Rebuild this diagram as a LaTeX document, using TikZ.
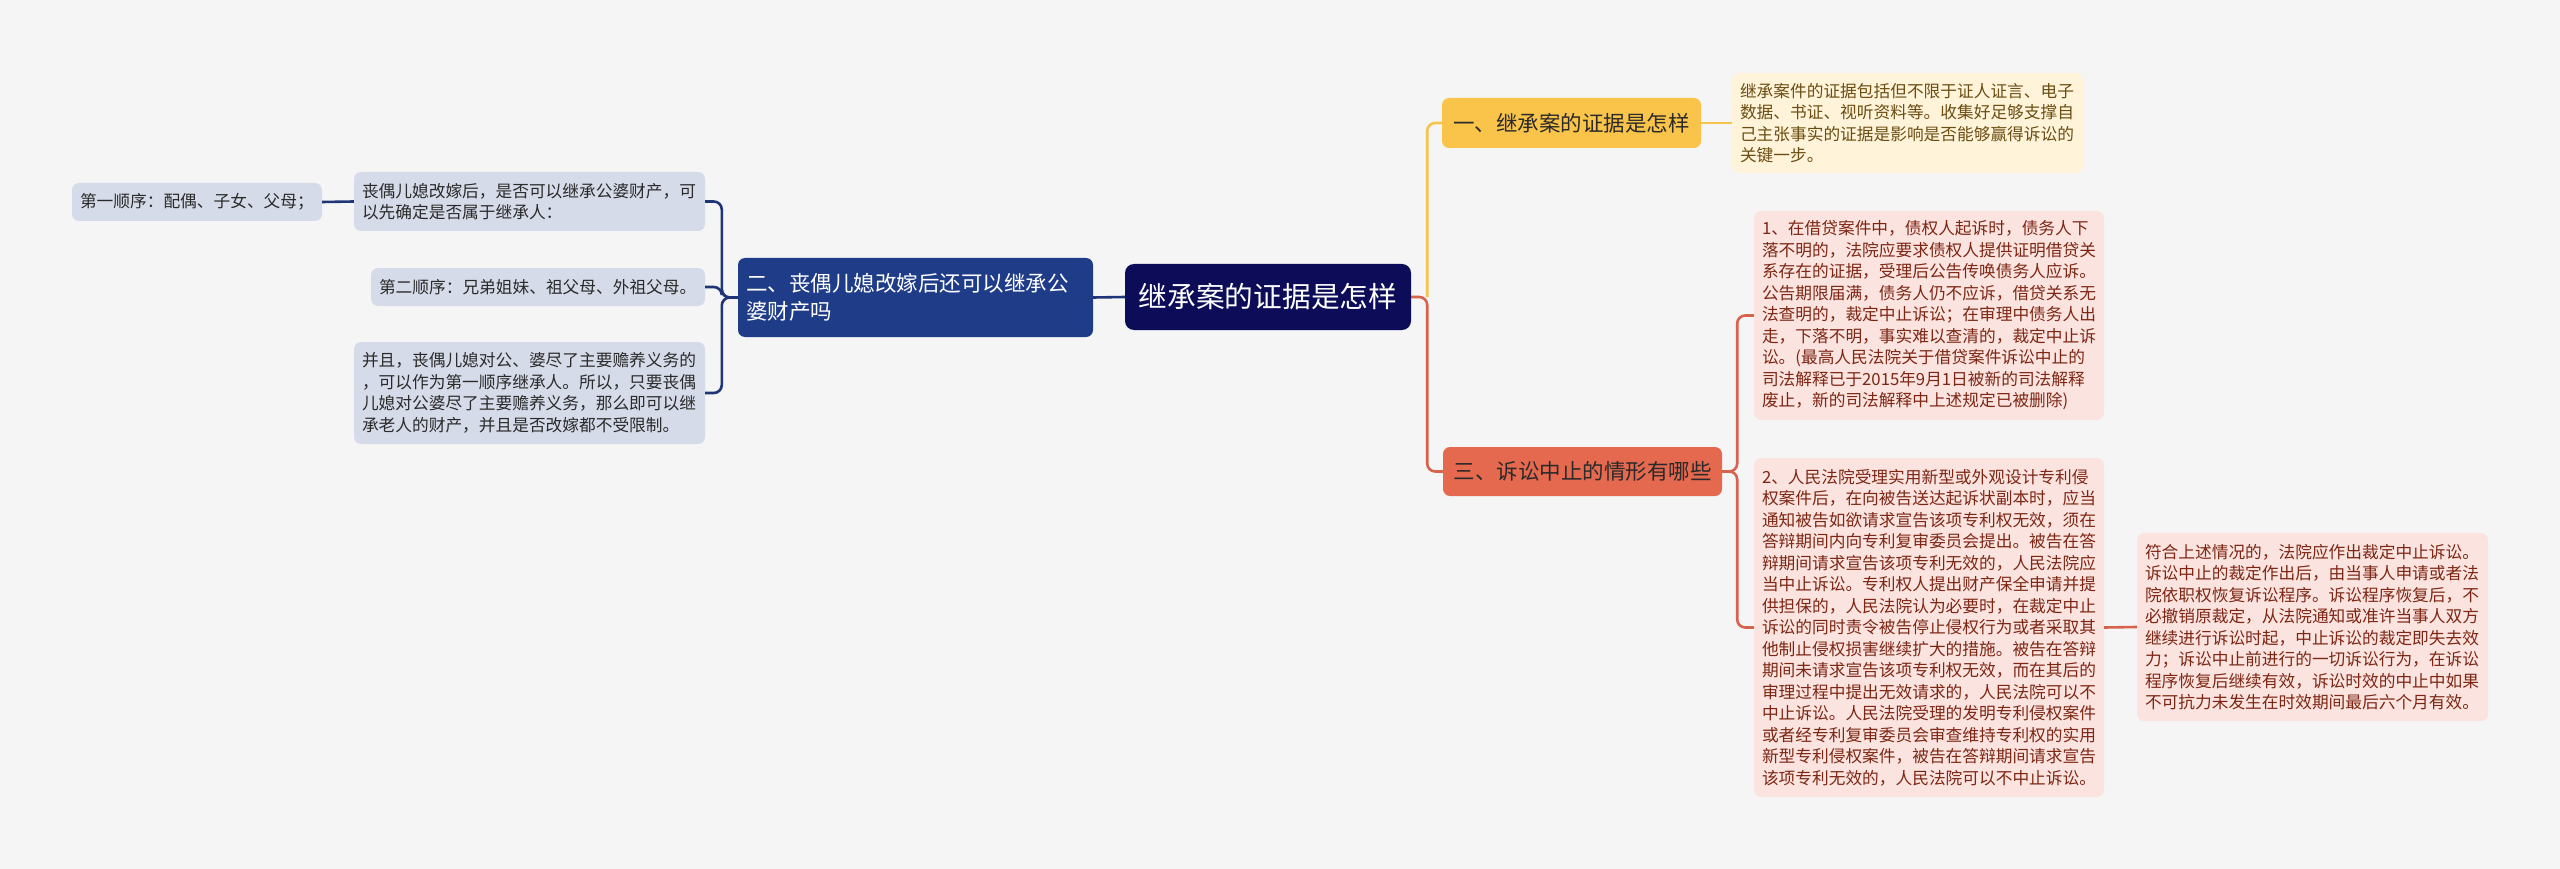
\documentclass[tikz,border=0pt]{standalone}
\usepackage{fontspec}
\setmainfont{Noto Sans CJK SC}
\definecolor{bg}{HTML}{F5F5F5}
\definecolor{rootc}{HTML}{0C0C58}
\definecolor{navyb}{HTML}{1F3C88}
\definecolor{navyl}{HTML}{1F3577}
\definecolor{navyleaf}{HTML}{D6DBE9}
\definecolor{goldb}{HTML}{F9C449}
\definecolor{goldl}{HTML}{F5C44E}
\definecolor{cream}{HTML}{FFF4DA}
\definecolor{creamtext}{HTML}{6B4D12}
\definecolor{redb}{HTML}{E4694F}
\definecolor{redl}{HTML}{D7634C}
\definecolor{pink}{HTML}{FBE4DF}
\definecolor{pinktext}{HTML}{7D2614}
\definecolor{darktext}{HTML}{2A2A2A}
\begin{document}
\begin{tikzpicture}[x=1pt,y=-1pt,
  box/.style={rounded corners=7pt, inner xsep=8pt, inner ysep=0pt, align=left},
  leaf/.style={box, font=\fontsize{16.7pt}{21.5pt}\selectfont},
  navyleafs/.style={leaf, fill=navyleaf, text=darktext},
  creamleafs/.style={leaf, fill=cream, text=creamtext},
  pinkleafs/.style={leaf, fill=pink, text=pinktext},
  branchs/.style={box, font=\fontsize{21.5pt}{28pt}\selectfont},
  conn/.style={line width=2.6pt, rounded corners=8pt},
]
\useasboundingbox (0,0) rectangle (2560,869);
\fill[bg] (0,0) rectangle (2560,869);

% root
\node[box, fill=rootc, text=white, align=center, minimum width=286pt, minimum height=66pt,
  rounded corners=9pt, font=\fontsize{28.7pt}{34pt}\selectfont] (root) at (1268,297) {继承案的证据是怎样};

% left branch
\node[branchs, fill=navyb, text=white, text width=339pt, minimum height=79pt] (b2) at (915.5,297.5)
  {二、丧偶儿媳改嫁后还可以继承公\\婆财产吗};

\node[navyleafs, text width=335pt, minimum height=59pt] (L1) at (529.5,201.5)
  {丧偶儿媳改嫁后，是否可以继承公婆财产，可\\以先确定是否属于继承人：};
\node[navyleafs, text width=234pt, minimum height=38pt] (N1) at (197,202)
  {第一顺序：配偶、子女、父母；};
\node[navyleafs, text width=318pt, minimum height=38pt] (L2) at (538,287)
  {第二顺序：兄弟姐妹、祖父母、外祖父母。};
\node[navyleafs, text width=335pt, minimum height=102pt] (L3) at (529.5,393)
  {并且，丧偶儿媳对公、婆尽了主要赡养义务的\\，可以作为第一顺序继承人。所以，只要丧偶\\儿媳对公婆尽了主要赡养义务，那么即可以继\\承老人的财产，并且是否改嫁都不受限制。};

% right branches
\node[branchs, fill=goldb, text=darktext, align=center, minimum width=259pt, minimum height=50pt] (b1) at (1571.5,123)
  {一、继承案的证据是怎样};
\node[creamleafs, text width=335pt, minimum height=100pt] (c1) at (1907.5,123)
  {继承案件的证据包括但不限于证人证言、电子\\数据、书证、视听资料等。收集好足够支撑自\\己主张事实的证据是影响是否能够赢得诉讼的\\关键一步。};

\node[branchs, fill=redb, text=darktext, align=center, minimum width=279pt, minimum height=49pt] (b3) at (1582.5,471.5)
  {三、诉讼中止的情形有哪些};
\node[pinkleafs, text width=334pt, minimum height=209pt] (p1) at (1929,315.5)
  {1、在借贷案件中，债权人起诉时，债务人下\\落不明的，法院应要求债权人提供证明借贷关\\系存在的证据，受理后公告传唤债务人应诉。\\公告期限届满，债务人仍不应诉，借贷关系无\\法查明的，裁定中止诉讼；在审理中债务人出\\走，下落不明，事实难以查清的，裁定中止诉\\讼。(最高人民法院关于借贷案件诉讼中止的\\司法解释已于2015年9月1日被新的司法解释\\废止，新的司法解释中上述规定已被删除)};
\node[pinkleafs, text width=334pt, minimum height=339pt] (p2) at (1929,627.5)
  {2、人民法院受理实用新型或外观设计专利侵\\权案件后，在向被告送达起诉状副本时，应当\\通知被告如欲请求宣告该项专利权无效，须在\\答辩期间内向专利复审委员会提出。被告在答\\辩期间请求宣告该项专利无效的，人民法院应\\当中止诉讼。专利权人提出财产保全申请并提\\供担保的，人民法院认为必要时，在裁定中止\\诉讼的同时责令被告停止侵权行为或者采取其\\他制止侵权损害继续扩大的措施。被告在答辩\\期间未请求宣告该项专利权无效，而在其后的\\审理过程中提出无效请求的，人民法院可以不\\中止诉讼。人民法院受理的发明专利侵权案件\\或者经专利复审委员会审查维持专利权的实用\\新型专利侵权案件，被告在答辩期间请求宣告\\该项专利无效的，人民法院可以不中止诉讼。};
\node[pinkleafs, text width=335pt, minimum height=188pt] (p3) at (2312.5,627)
  {符合上述情况的，法院应作出裁定中止诉讼。\\诉讼中止的裁定作出后，由当事人申请或者法\\院依职权恢复诉讼程序。诉讼程序恢复后，不\\必撤销原裁定，从法院通知或准许当事人双方\\继续进行诉讼时起，中止诉讼的裁定即失去效\\力；诉讼中止前进行的一切诉讼行为，在诉讼\\程序恢复后继续有效，诉讼时效的中止中如果\\不可抗力未发生在时效期间最后六个月有效。};

% connectors left
\draw[conn, navyl] (b2.west) -- ++(-16,0) |- (L1.east);
\draw[conn, navyl] (b2.west) -- ++(-16,0) |- (L2.east);
\draw[conn, navyl] (b2.west) -- ++(-16,0) |- (L3.east);
\draw[conn, navyl] (L1.west) -- (N1.east);
\draw[conn, navyl] (root.west) -- (b2.east);

% connectors right
\draw[conn, goldl] (root.east) ++(16,0) |- (b1.west);
\draw[conn, redl] (root.east) -- ++(16,0) |- (b3.west);
\draw[conn, goldl] (b1.east) -- (c1.west);
\draw[conn, redl] (b3.east) -- ++(15,0) |- (p1.west);
\draw[conn, redl] (b3.east) -- ++(15,0) |- (p2.west);
\draw[conn, redl] (p2.east) -- (p3.west);
\end{tikzpicture}
\end{document}
